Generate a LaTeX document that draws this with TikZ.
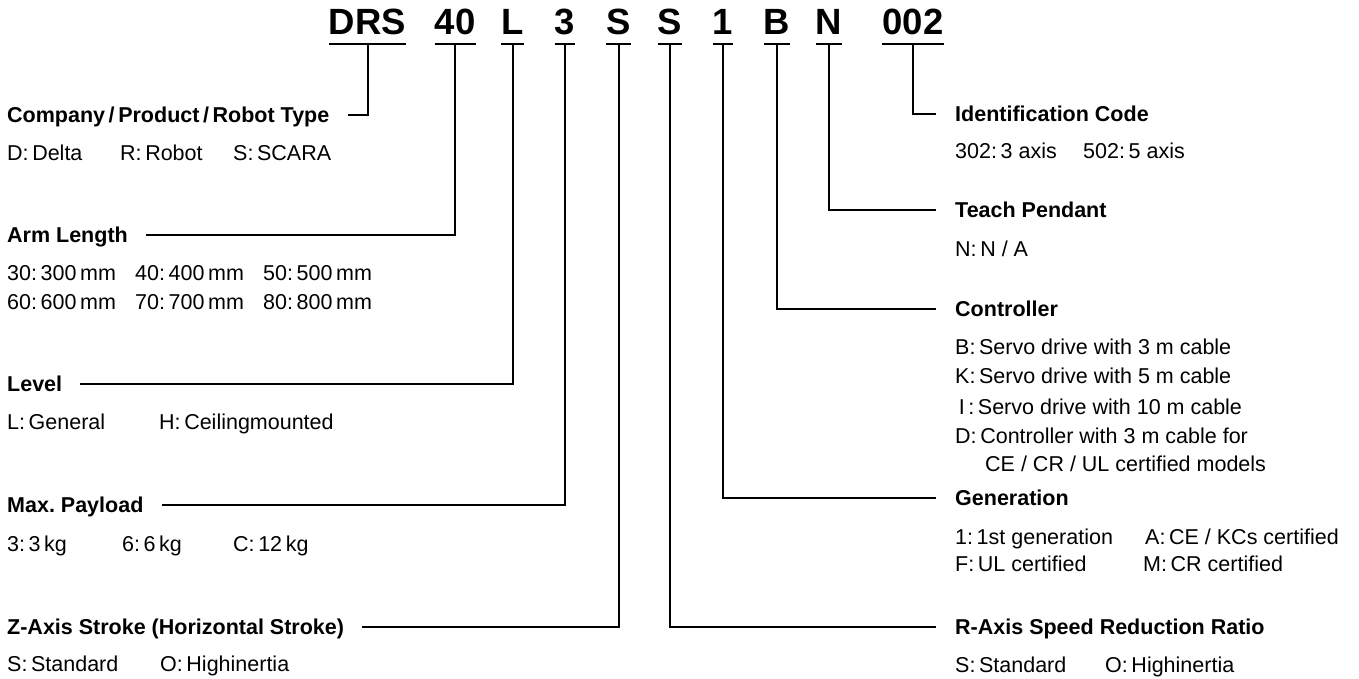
\documentclass[tikz,border=0pt]{standalone}
\usepackage{fontspec}
\setmainfont{Liberation Sans}
\usetikzlibrary{positioning}
\frenchspacing

\begin{document}
\begin{tikzpicture}[
    x=1pt, y=-1pt,
    code/.style={font=\fontsize{36.5}{40}\selectfont\bfseries, inner sep=0pt, anchor=base},
    lbl/.style={font=\fontsize{21.5}{24}\selectfont\bfseries, inner sep=0pt, anchor=west, text height=15.4pt, text depth=0pt},
    opt/.style={font=\fontsize{21.5}{24}\selectfont, inner sep=0pt, anchor=west, text height=15.4pt, text depth=0pt},
    uline/.style={line width=2.5pt},
    conn/.style={line width=2pt}
]
\useasboundingbox (0,0) rectangle (1359,679);

\node[code] (drs) at (367.5,35) {DRS};
\node[code] (arm) at (455,35) {40};
\node[code] (lvl) at (512.5,35) {L};
\node[code] (pay) at (565,35) {3};
\node[code] (zst) at (618.5,35) {S};
\node[code] (rsp) at (670,35) {S};
\node[code] (gen) at (723,35) {1};
\node[code] (ctl) at (777,35) {B};
\node[code] (tp) at (829,35) {N};
\node[code] (idc) at (913,35) {002};

\foreach \c in {drs,arm,lvl,pay,zst,rsp,gen,ctl,tp,idc}
    \draw[uline] ([yshift=-9pt]\c.base west) -- ([yshift=-9pt]\c.base east);

\node[lbl] (tDrs) at (7,115) {Company\,/\,Product\,/\,Robot Type};
\node[opt] (d1) at (7,153) {D:\,Delta};
\node[opt] (d2) at (120,153) {R:\,Robot};
\node[opt] (d3) at (233,153) {S:\,SCARA};

\node[lbl] (tArm) at (7,235) {Arm Length};
\node[opt] (a1) at (7,273) {30:\,300\,mm};
\node[opt] (a2) at (135,273) {40:\,400\,mm};
\node[opt] (a3) at (263,273) {50:\,500\,mm};
\node[opt] (a4) at (7,302) {60:\,600\,mm};
\node[opt] (a5) at (135,302) {70:\,700\,mm};
\node[opt] (a6) at (263,302) {80:\,800\,mm};

\node[lbl] (tLvl) at (7,384) {Level};
\node[opt] (l1) at (7,422) {L:\,General};
\node[opt] (l2) at (159,422) {H:\,Ceilingmounted};

\node[lbl] (tPay) at (7,505) {Max.\ Payload};
\node[opt] (p1) at (7,544) {3:\,3\,kg};
\node[opt] (p2) at (122,544) {6:\,6\,kg};
\node[opt] (p3) at (233,544) {C:\,12\,kg};

\node[lbl] (tZst) at (7,627) {Z-Axis Stroke (Horizontal Stroke)};
\node[opt] (z1) at (7,664) {S:\,Standard};
\node[opt] (z2) at (160,664) {O:\,Highinertia};

\node[lbl] (tIdc) at (955,114) {Identification Code};
\node[opt] (i1) at (955,151) {302:\,3 axis};
\node[opt] (i2) at (1083,151) {502:\,5 axis};

\node[lbl] (tTp) at (955,210) {Teach Pendant};
\node[opt] (t1) at (955,249) {N:\,N / A};

\node[lbl] (tCtl) at (955,309) {Controller};
\node[opt] (c1) at (955,347) {B:\,Servo drive with 3 m cable};
\node[opt] (c2) at (955,376) {K:\,Servo drive with 5 m cable};
\node[opt] (c3) at (955,407) {\,I\,:\,Servo drive with 10 m cable};
\node[opt] (c4) at (955,436) {D:\,Controller with 3 m cable for};
\node[opt] (c5) at (985,464) {CE / CR / UL certified models};

\node[lbl] (tGen) at (955,498) {Generation};
\node[opt] (g1) at (955,537) {1:\,1st generation};
\node[opt] (g2) at (1145,537) {A:\,CE / KCs certified};
\node[opt] (g3) at (955,564) {F:\,UL certified};
\node[opt] (g4) at (1143,564) {M:\,CR certified};

\node[lbl] (tRsp) at (955,627) {R-Axis Speed Reduction Ratio};
\node[opt] (r1) at (955,665) {S:\,Standard};
\node[opt] (r2) at (1105,665) {O:\,Highinertia};

\draw[conn] ([yshift=-9pt]drs.base) |- ([xshift=18pt]tDrs.east);
\draw[conn] ([yshift=-9pt]arm.base) |- ([xshift=18pt]tArm.east);
\draw[conn] ([yshift=-9pt]lvl.base) |- ([xshift=18pt]tLvl.east);
\draw[conn] ([yshift=-9pt]pay.base) |- ([xshift=18pt]tPay.east);
\draw[conn] ([yshift=-9pt]zst.base) |- ([xshift=18pt]tZst.east);
\draw[conn] ([yshift=-9pt]rsp.base) |- ([xshift=-19pt]tRsp.west);
\draw[conn] ([yshift=-9pt]gen.base) |- ([xshift=-19pt]tGen.west);
\draw[conn] ([yshift=-9pt]ctl.base) |- ([xshift=-19pt]tCtl.west);
\draw[conn] ([yshift=-9pt]tp.base) |- ([xshift=-19pt]tTp.west);
\draw[conn] ([yshift=-9pt]idc.base) |- ([xshift=-19pt]tIdc.west);
\end{tikzpicture}
\end{document}
